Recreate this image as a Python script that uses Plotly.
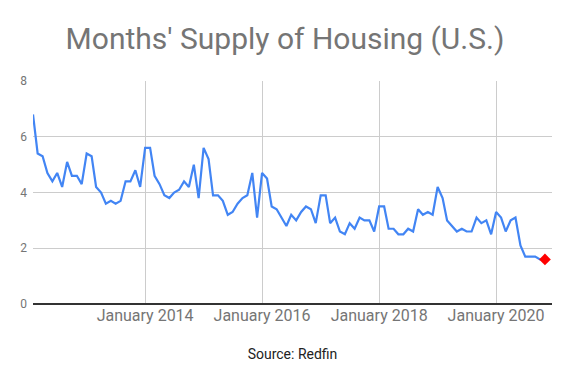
import plotly.graph_objects as go
import pandas as pd

start_month = "2012-02-01"
supply = [
    # 2012 Feb-Dec
    6.8, 5.4, 5.3, 4.7, 4.4, 4.7, 4.2, 5.1, 4.6, 4.6, 4.3,
    # 2013
    5.4, 5.3, 4.2, 4.0, 3.6, 3.7, 3.6, 3.7, 4.4, 4.4, 4.8, 4.2,
    # 2014
    5.6, 5.6, 4.6, 4.3, 3.9, 3.8, 4.0, 4.1, 4.4, 4.2, 5.0, 3.8,
    # 2015
    5.6, 5.2, 3.9, 3.9, 3.7, 3.2, 3.3, 3.6, 3.8, 3.9, 4.7, 3.1,
    # 2016
    4.7, 4.5, 3.5, 3.4, 3.1, 2.8, 3.2, 3.0, 3.3, 3.5, 3.4, 2.9,
    # 2017
    3.9, 3.9, 2.9, 3.1, 2.6, 2.5, 2.9, 2.7, 3.1, 3.0, 3.0, 2.6,
    # 2018
    3.5, 3.5, 2.7, 2.7, 2.5, 2.5, 2.7, 2.6, 3.4, 3.2, 3.3, 3.2,
    # 2019
    4.2, 3.8, 3.0, 2.8, 2.6, 2.7, 2.6, 2.6, 3.1, 2.9, 3.0, 2.5,
    # 2020 Jan-Nov
    3.3, 3.1, 2.6, 3.0, 3.1, 2.1, 1.7, 1.7, 1.7, 1.6, 1.6,
]
months = pd.date_range(start_month, periods=len(supply), freq="MS")

x_tick_vals = ["2014-01-01", "2016-01-01", "2018-01-01", "2020-01-01"]
x_tick_text = ["January 2014", "January 2016", "January 2018", "January 2020"]
y_tick_vals = [0, 2, 4, 6, 8]
x_range = ["2012-02-01", "2020-12-15"]

fig = go.Figure()
fig.add_trace(go.Scatter(
    x=months, y=supply, mode="lines",
    line=dict(color="#4285F4", width=2.2),
    hoverinfo="x+y", showlegend=False,
))
fig.add_trace(go.Scatter(
    x=[months[-1]], y=[supply[-1]], mode="markers",
    marker=dict(symbol="diamond", color="#FF0000", size=9),
    showlegend=False,
))

fig.update_layout(
    width=573, height=371,
    margin=dict(l=25, r=29, t=73, b=75, autoexpand=False),
    paper_bgcolor="white", plot_bgcolor="white",
    font=dict(family="Roboto", color="#757575"),
    title=dict(
        text="Months' Supply of Housing (U.S.)",
        font=dict(family="Roboto", size=30, color="#757575"),
        x=0.4834, xanchor="center", xref="container",
        y=0.917, yanchor="middle", yref="container",
    ),
    xaxis=dict(
        range=x_range,
        tickvals=x_tick_vals, ticktext=x_tick_text,
        tickfont=dict(size=16, color="#757575"),
        showgrid=True, gridcolor="#cccccc", gridwidth=1,
        zeroline=False, showline=False, ticks="",
        title=dict(text="Source: Redfin", font=dict(size=14, color="#222222"), standoff=25),
    ),
    yaxis=dict(
        range=[0, 8],
        tickvals=y_tick_vals,
        tickfont=dict(size=12, color="#757575"),
        showgrid=True, gridcolor="#cccccc", gridwidth=1,
        zeroline=True, zerolinecolor="#333333", zerolinewidth=1.5,
        showline=False, ticks="", ticklabelstandoff=5,
    ),
)

fig.write_html("out.html")
